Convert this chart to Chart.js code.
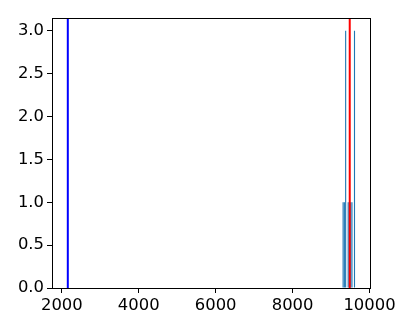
<!DOCTYPE html>
<html>
<head>
<meta charset="utf-8">
<script src="https://cdn.jsdelivr.net/npm/chart.js@4"></script>
<style>
  html, body { margin:0; padding:0; background:#fff; }
  #wrap { width:415px; height:332px; }
</style>
</head>
<body>
<div id="wrap"><canvas id="chart" width="415" height="332"></canvas></div>
<script>
// histogram bin centres and counts
const binCenters = [9314, 9347, 9380, 9413, 9446, 9478, 9511, 9544, 9577, 9610];
const binCounts  = [1, 1, 3, 0, 1, 1, 1, 1, 0, 3];
// vertical marker lines
const blueLineX = 2156;
const redLineX  = 9486;
// axes
const xTicks = [2000, 4000, 6000, 8000, 10000];
const yTicks = [0, 0.5, 1, 1.5, 2, 2.5, 3];
const xMin = 1745, xMax = 10013;
const yMin = 0, yMax = 3.15;

const FONT = { family:'"DejaVu Sans", sans-serif', size:16.4 };

function vline(x, color){
  return {
    type:'line',
    data:[{x:x, y:yMin}, {x:x, y:yMax}],
    borderColor:color,
    borderWidth:2,
    pointRadius:0,
    order:1
  };
}

// box around the plot area, like matplotlib spines
const frame = {
  id:'frame',
  afterDraw(chart){
    const a = chart.chartArea, c = chart.ctx;
    c.save();
    c.strokeStyle = '#000';
    c.lineWidth = 1;
    c.strokeRect(Math.round(a.left)+0.5, Math.round(a.top)+0.5,
      Math.round(a.right-a.left), Math.round(a.bottom-a.top));
    c.restore();
  }
};

const ctx = document.getElementById('chart');
new Chart(ctx, {
  data: {
    datasets: [
      {
        type:'bar',
        data: binCenters.map((c,i)=>({x:c, y:binCounts[i]})),
        backgroundColor:'#1f77b4',
        barPercentage:0.9,
        categoryPercentage:1,
        order:2
      },
      vline(blueLineX, '#0000ff'),
      vline(redLineX, '#ff0000')
    ]
  },
  options: {
    responsive:false,
    animation:false,
    layout:{ padding:{ left:0, right:45, top:18, bottom:0 } },
    plugins:{ legend:{display:false}, tooltip:{enabled:false} },
    scales:{
      x:{
        type:'linear',
        min:xMin, max:xMax,
        offset:false,
        grid:{ display:true, offset:false, drawOnChartArea:false, drawTicks:true, tickLength:5, color:'#000', tickWidth:1 },
        border:{ display:false },
        afterBuildTicks:(s)=>{ s.ticks = xTicks.map(v=>({value:v})); },
        afterFit:(s)=>{ s.height = 44; },
        ticks:{ color:'#000', font:FONT, padding:3, maxRotation:0, autoSkip:false,
          callback:(v)=>String(v) }
      },
      y:{
        type:'linear',
        min:yMin, max:yMax,
        grid:{ display:true, offset:false, drawOnChartArea:false, drawTicks:true, tickLength:5, color:'#000', tickWidth:1 },
        border:{ display:false },
        afterBuildTicks:(s)=>{ s.ticks = yTicks.map(v=>({value:v})); },
        afterFit:(s)=>{ s.width = 52; },
        ticks:{ color:'#000', font:FONT, padding:3, autoSkip:false,
          callback:(v)=>Number(v).toFixed(1) }
      }
    }
  },
  plugins:[frame]
});
</script>
</body>
</html>
